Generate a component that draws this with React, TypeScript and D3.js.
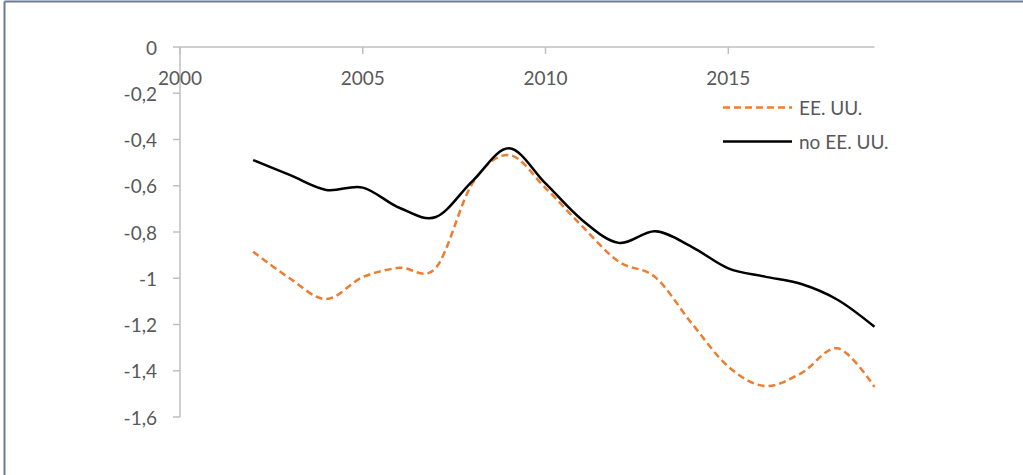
import React from "react";
import * as d3 from "d3";

const years = [2002, 2003, 2004, 2005, 2006, 2007, 2008, 2009, 2010, 2011, 2012, 2013, 2014, 2015, 2016, 2017, 2018, 2019];
const usValues = [-0.885, -1.0, -1.09, -0.995, -0.955, -0.955, -0.59, -0.467, -0.61, -0.775, -0.928, -0.995, -1.195, -1.382, -1.466, -1.41, -1.303, -1.47];
const nonUsValues = [-0.489, -0.553, -0.618, -0.608, -0.695, -0.735, -0.58, -0.438, -0.59, -0.748, -0.847, -0.797, -0.864, -0.957, -0.993, -1.025, -1.094, -1.21];
const xTicks = [2000, 2005, 2010, 2015];
const yTicks = [0, -0.2, -0.4, -0.6, -0.8, -1, -1.2, -1.4, -1.6];
const seriesNames = ["EE. UU.", "no EE. UU."];

const W = 1023;
const H = 475;
const FONT = "Lato, 'Open Sans', sans-serif";
const TEXT = "#595959";
const AXIS = "#bfbfbf";
const FS = 19;

export default function App() {
  const x = d3.scaleLinear().domain([2000, 2019]).range([180, 874.5]);
  const y = d3.scaleLinear().domain([0, -1.6]).range([47, 417]);
  const line = d3
    .line<number>()
    .x((_, i) => x(years[i]))
    .y((d) => y(d))
    .curve(d3.curveCardinal.tension(0));

  const fmt = (v: number) => (v === 0 ? "0" : String(v).replace(".", ","));

  return (
    <svg
      width={W}
      height={H}
      style={{ position: "absolute", left: 0, top: 0, background: "#fff" }}
      fontFamily={FONT}
    >
      <rect x={0} y={0} width={W} height={H} fill="#fff" />
      {/* frame (top and left edges) */}
      <line x1={4.5} y1={1.5} x2={W} y2={1.5} stroke="#6b7a96" strokeWidth={2} />
      <line x1={4.5} y1={1.5} x2={4.5} y2={H} stroke="#6b7a96" strokeWidth={2} />

      {/* y axis */}
      <line x1={x(2000)} y1={y(0)} x2={x(2000)} y2={y(-1.6)} stroke={AXIS} strokeWidth={1.5} />
      {yTicks.map((t) => (
        <g key={"y" + t}>
          <line x1={x(2000) - 7} x2={x(2000)} y1={y(t)} y2={y(t)} stroke={AXIS} strokeWidth={1.5} />
          <text
            x={157}
            y={y(t)}
            textAnchor="end"
            dominantBaseline="central"
            fontSize={FS}
            fill={TEXT}
          >
            {fmt(t)}
          </text>
        </g>
      ))}

      {/* x axis */}
      <line x1={x(2000)} y1={y(0)} x2={x(2019)} y2={y(0)} stroke={AXIS} strokeWidth={1.5} />
      {xTicks.map((t) => (
        <g key={"x" + t}>
          <line x1={x(t)} x2={x(t)} y1={y(0)} y2={y(0) + 7} stroke={AXIS} strokeWidth={1.5} />
          <text x={x(t)} y={85} textAnchor="middle" fontSize={FS} fill={TEXT}>
            {t}
          </text>
        </g>
      ))}

      {/* series */}
      <path
        d={line(usValues) || ""}
        fill="none"
        stroke="#ed7d31"
        strokeWidth={2.5}
        strokeDasharray="7,4"
      />
      <path d={line(nonUsValues) || ""} fill="none" stroke="#000" strokeWidth={2.5} />

      {/* legend */}
      <g>
        <line x1={723} x2={792} y1={107.5} y2={107.5} stroke="#ed7d31" strokeWidth={2.5} strokeDasharray="7,4" />
        <text x={799} y={107.5} dominantBaseline="central" fontSize={FS} fill={TEXT}>
          {seriesNames[0]}
        </text>
        <line x1={723} x2={792} y1={141.5} y2={141.5} stroke="#000" strokeWidth={2.5} />
        <text x={799} y={141.5} dominantBaseline="central" fontSize={FS} fill={TEXT}>
          {seriesNames[1]}
        </text>
      </g>
    </svg>
  );
}
